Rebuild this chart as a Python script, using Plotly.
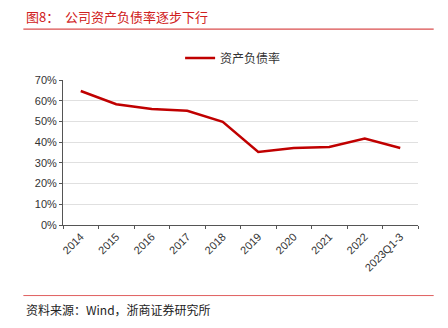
import plotly.graph_objects as go

categories = ["2014", "2015", "2016", "2017", "2018", "2019", "2020", "2021", "2022", "2023Q1-3"]
debt_ratio = [0.647, 0.583, 0.560, 0.551, 0.498, 0.353, 0.372, 0.377, 0.417, 0.372]
series_name = "资产负债率"
title_text = "图8：  公司资产负债率逐步下行"
source_text = "资料来源：Wind，浙商证券研究所"

W, H = 448, 328
L, R, T, B = 62.7, 418.3, 80.0, 225.3

def px(x):
    return (x - L) / (R - L)

def py(y):
    return (B - y) / (B - T)

fig = go.Figure()
fig.add_trace(go.Scatter(
    x=categories, y=debt_ratio, mode="lines", name=series_name,
    line=dict(color="#C00000", width=2.5),
))

fig.update_layout(
    width=W, height=H,
    margin=dict(l=L, r=W - R, t=T, b=H - B, pad=0),
    paper_bgcolor="white", plot_bgcolor="white",
    showlegend=True,
    legend=dict(orientation="h", x=px(180), y=py(58), xanchor="left", yanchor="middle",
                font=dict(family="Noto Sans CJK SC", size=12, color="#333333"),
                itemwidth=30, bgcolor="rgba(0,0,0,0)"),
    xaxis=dict(
        type="category", range=[-0.5, 9.5], tickson="boundaries",
        showline=True, linecolor="#555555", linewidth=1,
        ticks="outside", ticklen=3, tickcolor="#555555",
        tickangle=-45, showgrid=False,
        tickfont=dict(family="Liberation Sans", size=11, color="#333333"),
    ),
    yaxis=dict(
        range=[0, 0.7], dtick=0.1, tickformat=".0%",
        showline=True, linecolor="#555555", linewidth=1,
        ticks="outside", ticklen=3, tickcolor="#555555",
        showgrid=True, gridcolor="#E0E0E0", gridwidth=1,
        zeroline=False,
        tickfont=dict(family="Liberation Sans", size=11, color="#333333"),
    ),
    shapes=[
        dict(type="line", xref="paper", yref="paper", x0=px(23), x1=px(434), y0=py(29), y1=py(29),
             line=dict(color="#D02020", width=1)),
        dict(type="line", xref="paper", yref="paper", x0=px(23), x1=px(434), y0=py(296), y1=py(296),
             line=dict(color="#E06060", width=1)),
    ],
    annotations=[
        dict(text=title_text, xref="paper", yref="paper", x=px(24), y=py(16),
             xanchor="left", yanchor="middle", showarrow=False,
             font=dict(family="Noto Sans CJK SC", size=13, color="#D02020")),
        dict(text=source_text, xref="paper", yref="paper", x=px(24), y=py(310),
             xanchor="left", yanchor="middle", showarrow=False,
             font=dict(family="Noto Sans CJK SC", size=12, color="#222222")),
    ],
)

fig.write_html("out.html")
